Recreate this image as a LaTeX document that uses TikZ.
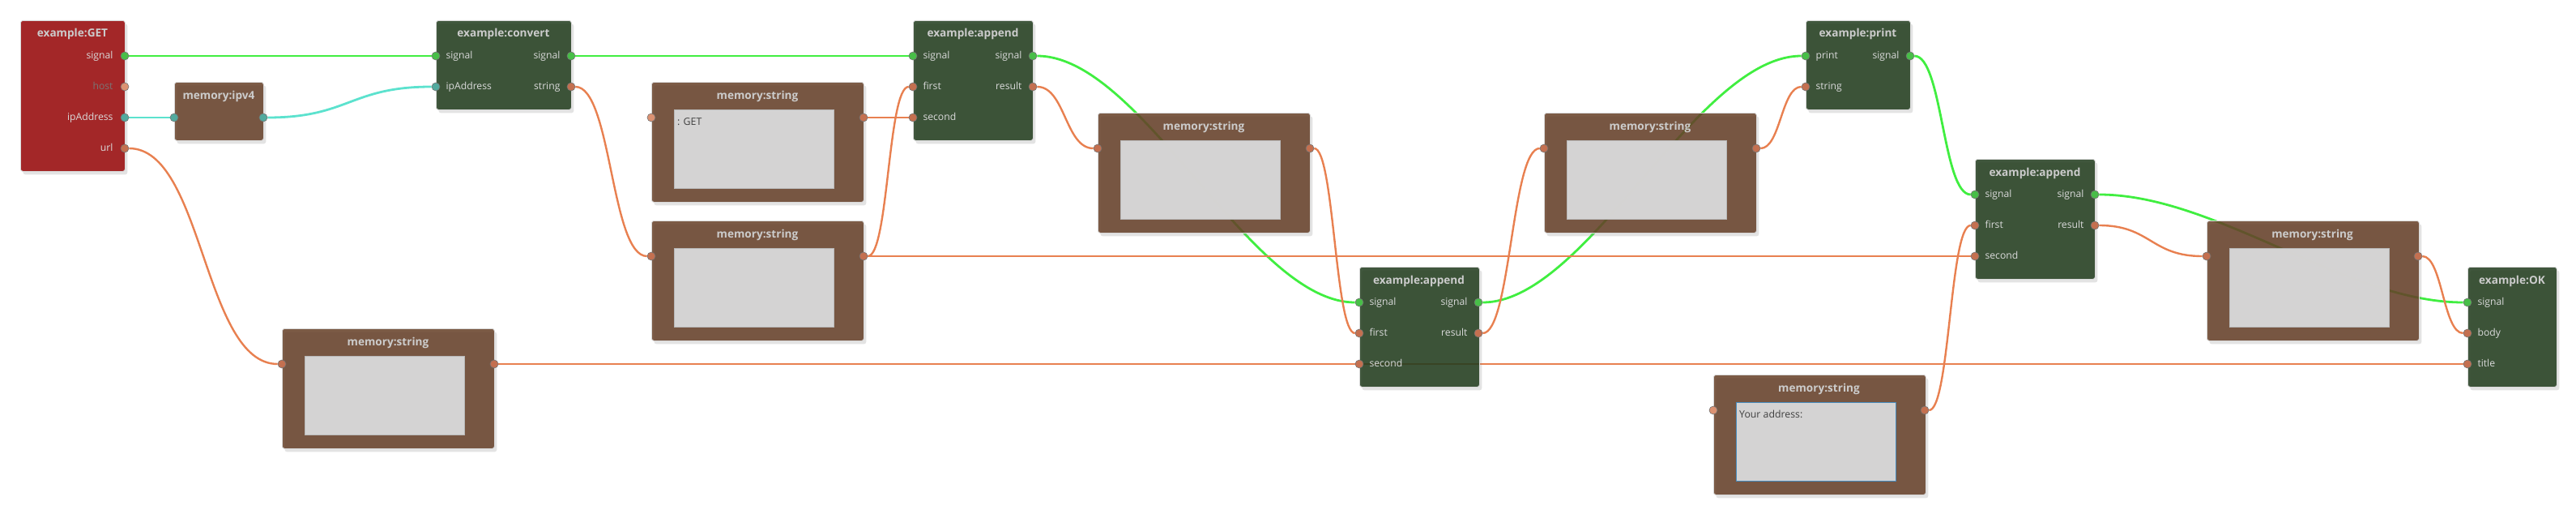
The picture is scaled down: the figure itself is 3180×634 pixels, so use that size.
\documentclass[tikz,border=0pt]{standalone}
\usepackage{fontspec}
\setmainfont{Open Sans}
\usetikzlibrary{positioning,shadows}

\definecolor{getred}{RGB}{163,39,40}
\definecolor{fngreen}{RGB}{31,58,27}
\definecolor{membrown}{RGB}{101,62,38}
\definecolor{fieldgray}{RGB}{216,216,216}
\definecolor{titlegray}{RGB}{204,204,204}
\definecolor{labelgray}{RGB}{218,218,218}
\definecolor{hostgray}{RGB}{122,116,116}
\definecolor{sigwire}{RGB}{64,238,64}
\definecolor{ipwire}{RGB}{92,226,206}
\definecolor{strwire}{RGB}{232,128,80}
\definecolor{sigport}{RGB}{72,190,72}
\definecolor{ipport}{RGB}{82,170,158}
\definecolor{strport}{RGB}{196,112,80}
\definecolor{freeport}{RGB}{220,146,114}

\pgfdeclarelayer{wires}
\pgfsetlayers{wires,main}

\tikzset{
  box/.style={anchor=north west, rounded corners=3pt, draw=white!85!black, line width=0.8pt, inner sep=0, fill opacity=0.85,
    drop shadow={shadow xshift=3pt, shadow yshift=-4pt, opacity=0.22}},
  getbox/.style={box, fill=getred, fill opacity=1},
  fnbox/.style={box, fill=fngreen, minimum width=148, minimum height=148},
  membox/.style={box, fill=membrown, minimum width=262, minimum height=148},
  field/.style={anchor=north west, fill=fieldgray, draw=black!28, line width=0.6pt, inner sep=0, fill opacity=0.97, minimum width=197, minimum height=97},
  fieldtext/.style={anchor=west, inner sep=0, text=black!75, font=\fontsize{12.3}{15}\selectfont},
  title/.style={inner sep=0, text height=10pt, text depth=0pt, text=titlegray, font=\fontsize{13.6}{16}\selectfont\bfseries},
  plabel/.style={inner sep=0, text height=9pt, text depth=2.5pt, text=labelgray, font=\fontsize{12.2}{14}\selectfont},
  port/.style={circle, minimum size=10pt, inner sep=0, draw=black!55, line width=0.6pt},
  sig/.style={draw=sigwire, line width=2.8pt},
  ip/.style={draw=ipwire, line width=2.8pt},
  str/.style={draw=strwire, line width=2.4pt}
}

\begin{document}
\begin{tikzpicture}[x=1pt, y=-1pt]
  \useasboundingbox (0,0) rectangle (3180,634);

  % boxes
  \node[getbox, minimum width=129, minimum height=186] (get) at (25,25) {};
  \node[membox, minimum width=110, minimum height=72] (ipv4) at (215,101) {};
  \node[fnbox, minimum width=167, minimum height=110] (conv) at (538,25) {};
  \node[membox] (strget) at (804,101) {};
  \node[membox] (strb) at (804,272) {};
  \node[membox] (strc) at (348,405) {};
  \node[fnbox] (app1) at (1127,25) {};
  \node[membox] (strmid) at (1355,139) {};
  \node[fnbox] (app2) at (1678,329) {};
  \node[membox] (strmid2) at (1906,139) {};
  \node[fnbox, minimum width=129, minimum height=110] (print) at (2229,25) {};
  \node[fnbox] (app3) at (2438,196) {};
  \node[membox] (strad) at (2115,462) {};
  \node[membox] (strr) at (2724,272) {};
  \node[fnbox, minimum width=110] (ok) at (3046,329) {};

  % titles
  \node[title] (get-t) at (89.5,41) {example:GET};
  \node[title] (ipv4-t) at (270,117) {memory:ipv4};
  \node[title] (conv-t) at (621.5,41) {example:convert};
  \node[title] (strget-t) at (935,117) {memory:string};
  \node[title] (strb-t) at (935,288) {memory:string};
  \node[title] (strc-t) at (479,421) {memory:string};
  \node[title] (app1-t) at (1201,41) {example:append};
  \node[title] (strmid-t) at (1486,155) {memory:string};
  \node[title] (app2-t) at (1751.5,345) {example:append};
  \node[title] (strmid2-t) at (2037,155) {memory:string};
  \node[title] (print-t) at (2293.5,41) {example:print};
  \node[title] (app3-t) at (2512,212) {example:append};
  \node[title] (strad-t) at (2245.5,478) {memory:string};
  \node[title] (strr-t) at (2854.5,288) {memory:string};
  \node[title] (ok-t) at (3101,345) {example:OK};

  % text fields
  \node[field] (strget-f) at (832,135) {};
  \node[field] (strb-f) at (832,306) {};
  \node[field] (strc-f) at (376,439) {};
  \node[field] (strmid-f) at (1383,173) {};
  \node[field] (strmid2-f) at (1934,173) {};
  \node[field, draw={rgb,255:red,70;green,140;blue,190}, line width=0.9pt] (strad-f) at (2143,496) {};
  \node[field] (strr-f) at (2752,306) {};
  \node[fieldtext] (strget-x) at (836,150) {: GET};
  \node[fieldtext] (strad-x) at (2147,511) {Your address:};

  % ports
  \node[port, fill=sigport] (get-sig) at (154,69) {};
  \node[port, fill=freeport] (get-host) at (154,107) {};
  \node[port, fill=ipport] (get-ip) at (154,145) {};
  \node[port, fill=strport] (get-url) at (154,183) {};
  \node[port, fill=ipport] (ipv4-in) at (215,145) {};
  \node[port, fill=ipport] (ipv4-out) at (325,145) {};
  \node[port, fill=sigport] (conv-sigin) at (538,69) {};
  \node[port, fill=ipport] (conv-ipin) at (538,107) {};
  \node[port, fill=sigport] (conv-sigout) at (705,69) {};
  \node[port, fill=strport] (conv-strout) at (705,107) {};
  \node[port, fill=freeport] (strget-in) at (804,145) {};
  \node[port, fill=strport] (strget-out) at (1066,145) {};
  \node[port, fill=strport] (strb-in) at (804,316) {};
  \node[port, fill=strport] (strb-out) at (1066,316) {};
  \node[port, fill=strport] (strc-in) at (348,449) {};
  \node[port, fill=strport] (strc-out) at (610,449) {};
  \node[port, fill=sigport] (app1-sigin) at (1127,69) {};
  \node[port, fill=strport] (app1-first) at (1127,107) {};
  \node[port, fill=strport] (app1-second) at (1127,145) {};
  \node[port, fill=sigport] (app1-sigout) at (1275,69) {};
  \node[port, fill=strport] (app1-result) at (1275,107) {};
  \node[port, fill=strport] (strmid-in) at (1355,183) {};
  \node[port, fill=strport] (strmid-out) at (1617,183) {};
  \node[port, fill=sigport] (app2-sigin) at (1678,373) {};
  \node[port, fill=strport] (app2-first) at (1678,411) {};
  \node[port, fill=strport] (app2-second) at (1678,449) {};
  \node[port, fill=sigport] (app2-sigout) at (1825,373) {};
  \node[port, fill=strport] (app2-result) at (1825,411) {};
  \node[port, fill=strport] (strmid2-in) at (1906,183) {};
  \node[port, fill=strport] (strmid2-out) at (2168,183) {};
  \node[port, fill=sigport] (print-print) at (2229,69) {};
  \node[port, fill=strport] (print-str) at (2229,107) {};
  \node[port, fill=sigport] (print-sigout) at (2358,69) {};
  \node[port, fill=sigport] (app3-sigin) at (2438,240) {};
  \node[port, fill=strport] (app3-first) at (2438,278) {};
  \node[port, fill=strport] (app3-second) at (2438,316) {};
  \node[port, fill=sigport] (app3-sigout) at (2586,240) {};
  \node[port, fill=strport] (app3-result) at (2586,278) {};
  \node[port, fill=freeport] (strad-in) at (2115,506) {};
  \node[port, fill=strport] (strad-out) at (2376,506) {};
  \node[port, fill=strport] (strr-in) at (2724,316) {};
  \node[port, fill=strport] (strr-out) at (2985,316) {};
  \node[port, fill=sigport] (ok-sig) at (3046,373) {};
  \node[port, fill=strport] (ok-body) at (3046,411) {};
  \node[port, fill=strport] (ok-title) at (3046,449) {};

  % port labels
  \node[plabel, left=9pt of get-sig] (get-sig-l) {signal};
  \node[plabel, left=9pt of get-host, text=hostgray] (get-host-l) {host};
  \node[plabel, left=9pt of get-ip] (get-ip-l) {ipAddress};
  \node[plabel, left=9pt of get-url] (get-url-l) {url};
  \node[plabel, right=7pt of conv-sigin] (conv-sigin-l) {signal};
  \node[plabel, right=7pt of conv-ipin] (conv-ipin-l) {ipAddress};
  \node[plabel, left=8pt of conv-sigout] (conv-sigout-l) {signal};
  \node[plabel, left=8pt of conv-strout] (conv-strout-l) {string};
  \node[plabel, right=7pt of app1-sigin] (app1-sigin-l) {signal};
  \node[plabel, right=7pt of app1-first] (app1-first-l) {first};
  \node[plabel, right=7pt of app1-second] (app1-second-l) {second};
  \node[plabel, left=8pt of app1-sigout] (app1-sigout-l) {signal};
  \node[plabel, left=8pt of app1-result] (app1-result-l) {result};
  \node[plabel, right=7pt of app2-sigin] (app2-sigin-l) {signal};
  \node[plabel, right=7pt of app2-first] (app2-first-l) {first};
  \node[plabel, right=7pt of app2-second] (app2-second-l) {second};
  \node[plabel, left=8pt of app2-sigout] (app2-sigout-l) {signal};
  \node[plabel, left=8pt of app2-result] (app2-result-l) {result};
  \node[plabel, right=7pt of print-print] (print-print-l) {print};
  \node[plabel, right=7pt of print-str] (print-str-l) {string};
  \node[plabel, left=8pt of print-sigout] (print-sigout-l) {signal};
  \node[plabel, right=7pt of app3-sigin] (app3-sigin-l) {signal};
  \node[plabel, right=7pt of app3-first] (app3-first-l) {first};
  \node[plabel, right=7pt of app3-second] (app3-second-l) {second};
  \node[plabel, left=8pt of app3-sigout] (app3-sigout-l) {signal};
  \node[plabel, left=8pt of app3-result] (app3-result-l) {result};
  \node[plabel, right=7pt of ok-sig] (ok-sig-l) {signal};
  \node[plabel, right=7pt of ok-body] (ok-body-l) {body};
  \node[plabel, right=7pt of ok-title] (ok-title-l) {title};

  % wires, under the boxes
  \begin{pgfonlayer}{wires}
    \draw[sig] (get-sig) -- (conv-sigin);
    \draw[sig] (conv-sigout) -- (app1-sigin);
    \draw[sig] (app1-sigout) .. controls +(135,0) and +(-135,0) .. (app2-sigin);
    \draw[sig] (app2-sigout) .. controls +(135,0) and +(-135,0) .. (print-print);
    \draw[sig] (print-sigout) .. controls +(40,0) and +(-40,0) .. (app3-sigin);
    \draw[sig] (app3-sigout) .. controls +(150,0) and +(-150,0) .. (ok-sig);
    \draw[ip] (get-ip) -- (ipv4-in);
    \draw[ip] (ipv4-out) .. controls +(106,0) and +(-106,0) .. (conv-ipin);
    \draw[str] (get-url) .. controls +(97,0) and +(-97,0) .. (strc-in);
    \draw[str] (conv-strout) .. controls +(50,0) and +(-50,0) .. (strb-in);
    \draw[str] (strget-out) -- (app1-second);
    \draw[str] (strb-out) .. controls +(31,0) and +(-31,0) .. (app1-first);
    \draw[str] (strb-out) -- (app3-second);
    \draw[str] (app1-result) .. controls +(40,0) and +(-40,0) .. (strmid-in);
    \draw[str] (strmid-out) .. controls +(30,0) and +(-30,0) .. (app2-first);
    \draw[str] (app2-result) .. controls +(40,0) and +(-40,0) .. (strmid2-in);
    \draw[str] (strmid2-out) .. controls +(30,0) and +(-30,0) .. (print-str);
    \draw[str] (strc-out) -- (app2-second);
    \draw[str] (strc-out) -- (ok-title);
    \draw[str] (strad-out) .. controls +(31,0) and +(-31,0) .. (app3-first);
    \draw[str] (app3-result) .. controls +(69,0) and +(-69,0) .. (strr-in);
    \draw[str] (strr-out) .. controls +(30,0) and +(-30,0) .. (ok-body);
  \end{pgfonlayer}
\end{tikzpicture}
\end{document}
